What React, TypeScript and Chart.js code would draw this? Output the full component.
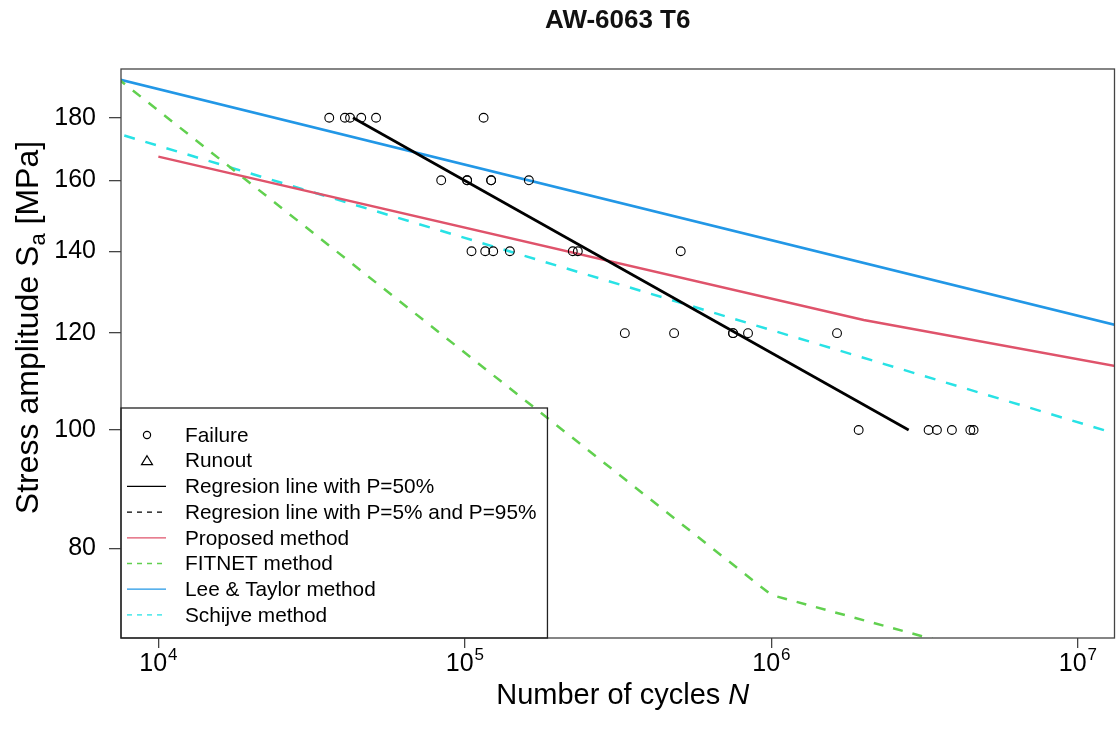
import React, { useEffect, useRef } from 'react';
import { Chart, registerables } from 'chart.js';

Chart.register(...registerables);

const FONT = "'Liberation Sans', Arial, Helvetica, sans-serif";

// ---- data ----
const failureN = [
  36100, 40600, 42200, 45900, 51300, 115100,
  83700, 101700, 101700, 121800, 121800, 161700,
  105100, 116500, 123700, 140200, 224900, 233600, 506000,
  332500, 481400, 749600, 749600, 838800, 1637000,
  1926000, 3257000, 3467000, 3880000, 4456000, 4566000,
];
const failureS = [
  180, 180, 180, 180, 180, 180,
  160, 160, 160, 160, 160, 160,
  140, 140, 140, 140, 140, 140, 140,
  120, 120, 120, 120, 120, 120,
  100, 100, 100, 100, 100, 100,
];
const runoutN: number[] = [];
const runoutS: number[] = [];

const regressionN = [43140, 2804000];
const regressionS = [180, 100];

const proposedN = [10000, 2000000, 20000000];
const proposedS = [167.3, 123.0, 110.7];

const fitnetN = [7000, 1000000, 10000000];
const fitnetS = [195.8, 73.3, 62.6];

const leeTaylorN = [7000, 20000000];
const leeTaylorS = [194.2, 118.8];

const schijveN = [7000, 20000000];
const schijveS = [175.4, 96.3];

const xTickValues = [1e4, 1e5, 1e6, 1e7];
const xTickExponents = ['4', '5', '6', '7'];
const yTickValues = [80, 100, 120, 140, 160, 180];

const titleText = 'AW-6063 T6';
const legendLabels = [
  'Failure',
  'Runout',
  'Regresion line with P=50%',
  'Regresion line with P=5% and P=95%',
  'Proposed method',
  'FITNET method',
  'Lee & Taylor method',
  'Schijve method',
];

const RED = '#DF536B';
const GREEN = '#61D04F';
const BLUE = '#2297E6';
const CYAN = '#28E2E5';

const pts = (xs: number[], ys: number[]) => xs.map((x, i) => ({ x, y: ys[i] }));

const decorPlugin = {
  id: 'decor',
  afterDraw(chart: any) {
    const { ctx, chartArea: a, scales } = chart;
    ctx.save();
    // plot box
    ctx.strokeStyle = '#444';
    ctx.lineWidth = 1.3;
    ctx.strokeRect(a.left, a.top, a.right - a.left, a.bottom - a.top);

    // title
    ctx.fillStyle = '#111';
    ctx.textAlign = 'center';
    ctx.textBaseline = 'alphabetic';
    ctx.font = `bold 26px ${FONT}`;
    ctx.fillText(titleText, (a.left + a.right) / 2, 28);

    // x tick labels 10^n
    ctx.fillStyle = '#000';
    ctx.textAlign = 'left';
    xTickValues.forEach((v, i) => {
      const px = scales.x.getPixelForValue(v);
      ctx.font = `25px ${FONT}`;
      const w1 = ctx.measureText('10').width;
      ctx.font = `17px ${FONT}`;
      const w2 = ctx.measureText(xTickExponents[i]).width;
      const x0 = px - (w1 + w2 + 1) / 2;
      ctx.font = `25px ${FONT}`;
      ctx.fillText('10', x0, a.bottom + 33);
      ctx.font = `17px ${FONT}`;
      ctx.fillText(xTickExponents[i], x0 + w1 + 1, a.bottom + 22);
    });

    // x axis title
    {
      const f = 29;
      ctx.font = `${f}px ${FONT}`;
      const t1 = 'Number of cycles ';
      const w1 = ctx.measureText(t1).width;
      ctx.font = `italic ${f}px ${FONT}`;
      const w2 = ctx.measureText('N').width;
      const cx = (a.left + a.right) / 2 + 5;
      const x0 = cx - (w1 + w2) / 2;
      ctx.font = `${f}px ${FONT}`;
      ctx.fillText(t1, x0, a.bottom + 66);
      ctx.font = `italic ${f}px ${FONT}`;
      ctx.fillText('N', x0 + w1, a.bottom + 66);
    }

    // y axis title
    {
      const f = 32;
      const fs = 22;
      const p1 = 'Stress amplitude S';
      const p2 = 'a';
      const p3 = ' [MPa]';
      ctx.font = `${f}px ${FONT}`;
      const w1 = ctx.measureText(p1).width;
      const w3 = ctx.measureText(p3).width;
      ctx.font = `${fs}px ${FONT}`;
      const w2 = ctx.measureText(p2).width;
      const total = w1 + w2 + w3;
      const cy = (a.top + a.bottom) / 2 - 26;
      ctx.translate(38, cy);
      ctx.rotate(-Math.PI / 2);
      const x0 = -total / 2;
      ctx.font = `${f}px ${FONT}`;
      ctx.fillText(p1, x0, 0);
      ctx.font = `${fs}px ${FONT}`;
      ctx.fillText(p2, x0 + w1, 7);
      ctx.font = `${f}px ${FONT}`;
      ctx.fillText(p3, x0 + w1 + w2, 0);
      ctx.setTransform(1, 0, 0, 1, 0, 0);
    }

    // legend
    {
      const fsz = 20.8;
      ctx.font = `${fsz}px ${FONT}`;
      const maxW = Math.max(...legendLabels.map((t) => ctx.measureText(t).width));
      const lx = a.left;
      const w = 64 + maxW + 11;
      const h = 230;
      const top = a.bottom - h;
      ctx.strokeStyle = '#222';
      ctx.lineWidth = 1.3;
      ctx.strokeRect(lx, top, w, h);
      const rowH = 25.7;
      const symX = lx + 26;
      legendLabels.forEach((label, i) => {
        const cy = top + 27 + i * rowH;
        ctx.save();
        ctx.lineWidth = 1.2;
        ctx.setLineDash([]);
        if (i === 0) {
          ctx.strokeStyle = '#000';
          ctx.beginPath();
          ctx.arc(symX, cy, 3.6, 0, Math.PI * 2);
          ctx.stroke();
        } else if (i === 1) {
          ctx.strokeStyle = '#000';
          ctx.beginPath();
          ctx.moveTo(symX, cy - 5);
          ctx.lineTo(symX + 5.5, cy + 4);
          ctx.lineTo(symX - 5.5, cy + 4);
          ctx.closePath();
          ctx.stroke();
        } else {
          const colors = ['', '', '#000', '#000', RED, GREEN, BLUE, CYAN];
          const dashed = [false, false, false, true, false, true, false, true];
          ctx.strokeStyle = colors[i];
          ctx.lineWidth = 1.3;
          if (dashed[i]) ctx.setLineDash([5, 5]);
          ctx.beginPath();
          ctx.moveTo(lx + 6, cy);
          ctx.lineTo(lx + 45, cy);
          ctx.stroke();
        }
        ctx.restore();
        ctx.fillStyle = '#000';
        ctx.font = `${fsz}px ${FONT}`;
        ctx.textBaseline = 'middle';
        ctx.textAlign = 'left';
        ctx.fillText(label, lx + 64, cy + 1);
      });
    }
    ctx.restore();
  },
};

export default function App() {
  const canvasRef = useRef<HTMLCanvasElement | null>(null);

  useEffect(() => {
    const canvas = canvasRef.current;
    if (!canvas) return;
    const lineBase = { showLine: true, pointRadius: 0, borderWidth: 2.5, clip: 0, tension: 0, fill: false };
    const chart = new Chart(canvas, {
      type: 'scatter',
      data: {
        datasets: [
          {
            label: 'Failure',
            data: pts(failureN, failureS),
            showLine: false,
            pointStyle: 'circle',
            pointRadius: 4.4,
            pointBorderWidth: 1.1,
            borderColor: '#000',
            pointBorderColor: '#000',
            backgroundColor: 'rgba(0,0,0,0)',
            pointBackgroundColor: 'rgba(0,0,0,0)',
          },
          {
            label: 'Runout',
            data: pts(runoutN, runoutS),
            showLine: false,
            pointStyle: 'triangle',
            pointRadius: 4.3,
            borderColor: '#000',
            backgroundColor: 'rgba(0,0,0,0)',
          },
          { ...lineBase, label: 'Regression P=50%', data: pts(regressionN, regressionS), borderColor: '#000', borderWidth: 2.6 },
          { ...lineBase, label: 'Proposed method', data: pts(proposedN, proposedS), borderColor: RED },
          { ...lineBase, label: 'FITNET method', data: pts(fitnetN, fitnetS), borderColor: GREEN, borderDash: [10, 10], borderDashOffset: 12 },
          { ...lineBase, label: 'Lee & Taylor method', data: pts(leeTaylorN, leeTaylorS), borderColor: BLUE },
          { ...lineBase, label: 'Schijve method', data: pts(schijveN, schijveS), borderColor: CYAN, borderDash: [11, 11], borderDashOffset: 8 },
        ] as any,
      },
      options: {
        animation: false,
        responsive: false,
        maintainAspectRatio: false,
        layout: { padding: { left: 0, right: 5, top: 69, bottom: 0 } },
        plugins: {
          legend: { display: false },
          tooltip: { enabled: false },
          title: { display: false },
        },
        scales: {
          x: {
            type: 'logarithmic',
            position: 'bottom',
            min: 7553,
            max: 13160000,
            afterBuildTicks: (s: any) => {
              s.ticks = xTickValues.map((v) => ({ value: v }));
            },
            afterFit: (s: any) => {
              s.height = 104;
            },
            ticks: { callback: () => '', font: { family: FONT, size: 25 } },
            grid: { display: true, drawOnChartArea: false, drawTicks: true, tickLength: 10, color: '#444', lineWidth: 1.3 },
            border: { display: false },
          },
          y: {
            type: 'logarithmic',
            position: 'left',
            min: 67.6,
            max: 197.3,
            afterBuildTicks: (s: any) => {
              s.ticks = yTickValues.map((v) => ({ value: v }));
            },
            afterFit: (s: any) => {
              s.width = 121;
            },
            ticks: {
              callback: (v: any) => String(v),
              color: '#000',
              padding: 13,
              font: { family: FONT, size: 25 },
            },
            grid: { display: true, drawOnChartArea: false, drawTicks: true, tickLength: 12, color: '#444', lineWidth: 1.3 },
            border: { display: false },
          },
        },
      } as any,
      plugins: [decorPlugin],
    });
    return () => chart.destroy();
  }, []);

  return (
    <div style={{ position: 'fixed', left: 0, top: 0, width: 1120, height: 742, background: '#fff' }}>
      <canvas ref={canvasRef} width={1120} height={742} style={{ display: 'block', width: 1120, height: 742 }} />
    </div>
  );
}
